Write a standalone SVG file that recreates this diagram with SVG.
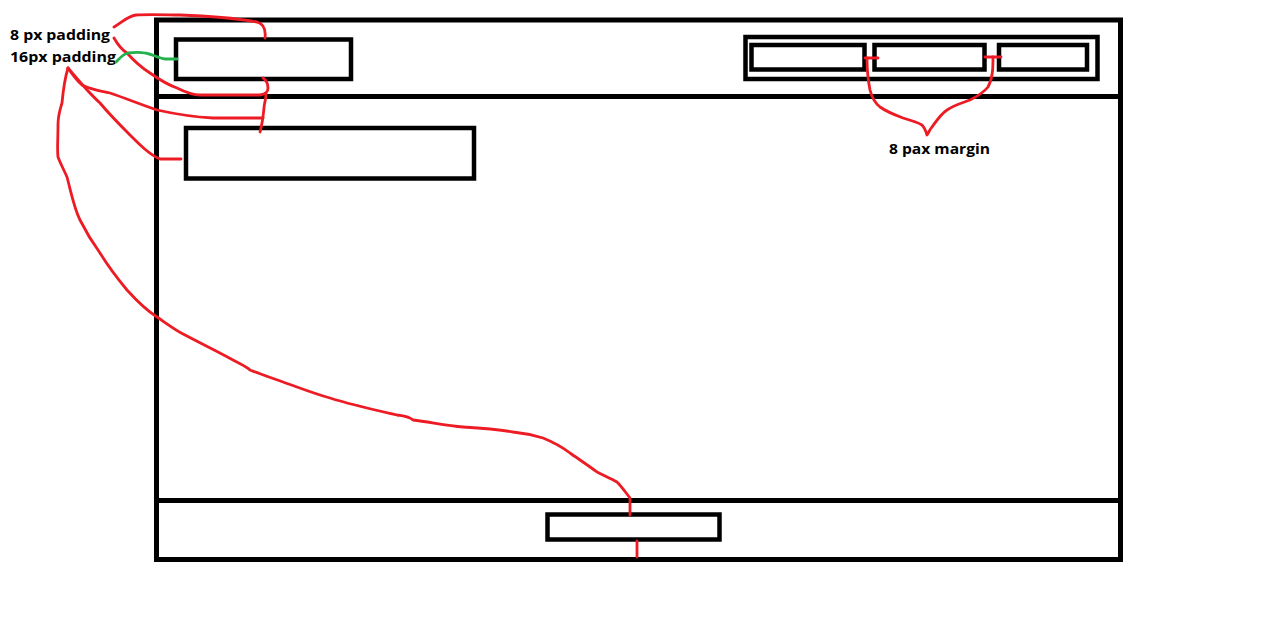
<svg xmlns="http://www.w3.org/2000/svg" width="1274" height="627" viewBox="0 0 1274 627">
<style>
.box{fill:none;stroke:#000;stroke-width:4.5}
.frame{fill:none;stroke:#000;stroke-width:5}
.red{fill:none;stroke:#ed1c24;stroke-width:2.8;stroke-linecap:round;stroke-linejoin:round}
.green{fill:none;stroke:#22b14c;stroke-width:2.8;stroke-linecap:round;stroke-linejoin:round}
.lbl{font-family:"Open Sans","Liberation Sans",sans-serif;font-weight:bold;font-size:15px;fill:#000}
</style>
<rect width="1274" height="627" fill="#fff"/>
<g id="page">
<rect class="frame" x="156.5" y="20" width="964" height="539.5"/>
<line class="frame" x1="156.5" y1="96.5" x2="1120.5" y2="96.5"/>
<line class="frame" x1="156.5" y1="500.5" x2="1120.5" y2="500.5"/>
</g>
<g id="logo"><rect class="box" x="176" y="39.5" width="175" height="39.5"/></g>
<g id="content-title"><rect class="box" x="186" y="128" width="288" height="50.5"/></g>
<g id="nav"><rect class="box" x="745.5" y="37" width="352" height="42"/></g>
<g id="nav-item-1"><rect class="box" x="751.5" y="45" width="113" height="24.5"/></g>
<g id="nav-item-2"><rect class="box" x="874.5" y="45" width="110" height="24.5"/></g>
<g id="nav-item-3"><rect class="box" x="999" y="45" width="88" height="24.5"/></g>
<g id="footer-box"><rect class="box" x="547.5" y="514.5" width="172" height="25"/></g>
<g id="labels">
<text class="lbl" x="10" y="40" textLength="100" lengthAdjust="spacingAndGlyphs">8 px padding</text>
<text class="lbl" x="10" y="62" textLength="106" lengthAdjust="spacingAndGlyphs">16px padding</text>
<text class="lbl" x="889" y="153.5" textLength="101" lengthAdjust="spacingAndGlyphs">8 pax margin</text>
</g>
<g id="connectors">
<path class="red" d="M114,27 C122,22 128,16 136,15 C150,14 170,15 180,15 C210,16 240,19 257,22 C264,24 266,30 265,38"/>
<path class="red" d="M114,38 C118,45 122,50 127,53 C135,62 142,68 150,73 C160,80 168,85 177,88 C185,92 192,95 200,95 L260,95 C266,94 268,92 268,88 C268,84 266,80 263,78"/>
<path class="red" d="M266,94 C266,100 264,104 264,108 C263,118 262,125 260,132"/>
<path class="green" d="M116,62 C120,58 123,54 128,53 C135,52 140,52 145,53 C152,54 158,58 165,59 L177,59"/>
<path class="red" d="M68,68 C72,74 76,80 82,85 C92,90 100,91 110,93 C125,98 142,105 157,110 C175,114 195,117 213,118 L263,118"/>
<path class="red" d="M68,68 C78,80 88,92 100,103 C110,115 120,125 130,135 C140,145 150,155 160,159 L181,159"/>
<path class="red" d="M68,68 C65,78 63,92 62,103 C60,110 58,115 58,125 C58,140 57,150 58,157 C61,165 64,170 67,177 C71,192 74,208 80,220 C86,232 92,242 100,253 C108,266 117,278 127,290 C136,300 146,310 157,317 C166,323 175,330 185,335 C200,343 215,350 233,360 C240,364 246,366 250,370 C260,374 272,378 283,382 C300,388 315,394 330,398 C352,405 375,410 397,415 C403,416 408,416 413,420 C430,422 447,426 463,427 C480,428 497,429 513,432 C523,433 533,435 543,438 C553,442 562,447 570,453 C580,460 589,466 597,472 C605,476 612,479 617,482 C622,487 626,493 630,498 L630,515"/>
<path class="red" d="M637,541 L637,557"/>
<path class="red" d="M865,58 L878,58 M985,57 L1001,57"/>
<path class="red" d="M867,58 C867,70 868,80 870,90 C872,98 875,103 880,107 C887,112 895,115 903,118 C910,120 917,122 922,125 C925,128 926,132 927,135 C929,132 930,129 932,127 C937,120 941,114 947,110 C954,105 962,103 970,100 C978,96 984,92 988,87 C993,78 993,67 993,57"/>
</g>
</svg>
